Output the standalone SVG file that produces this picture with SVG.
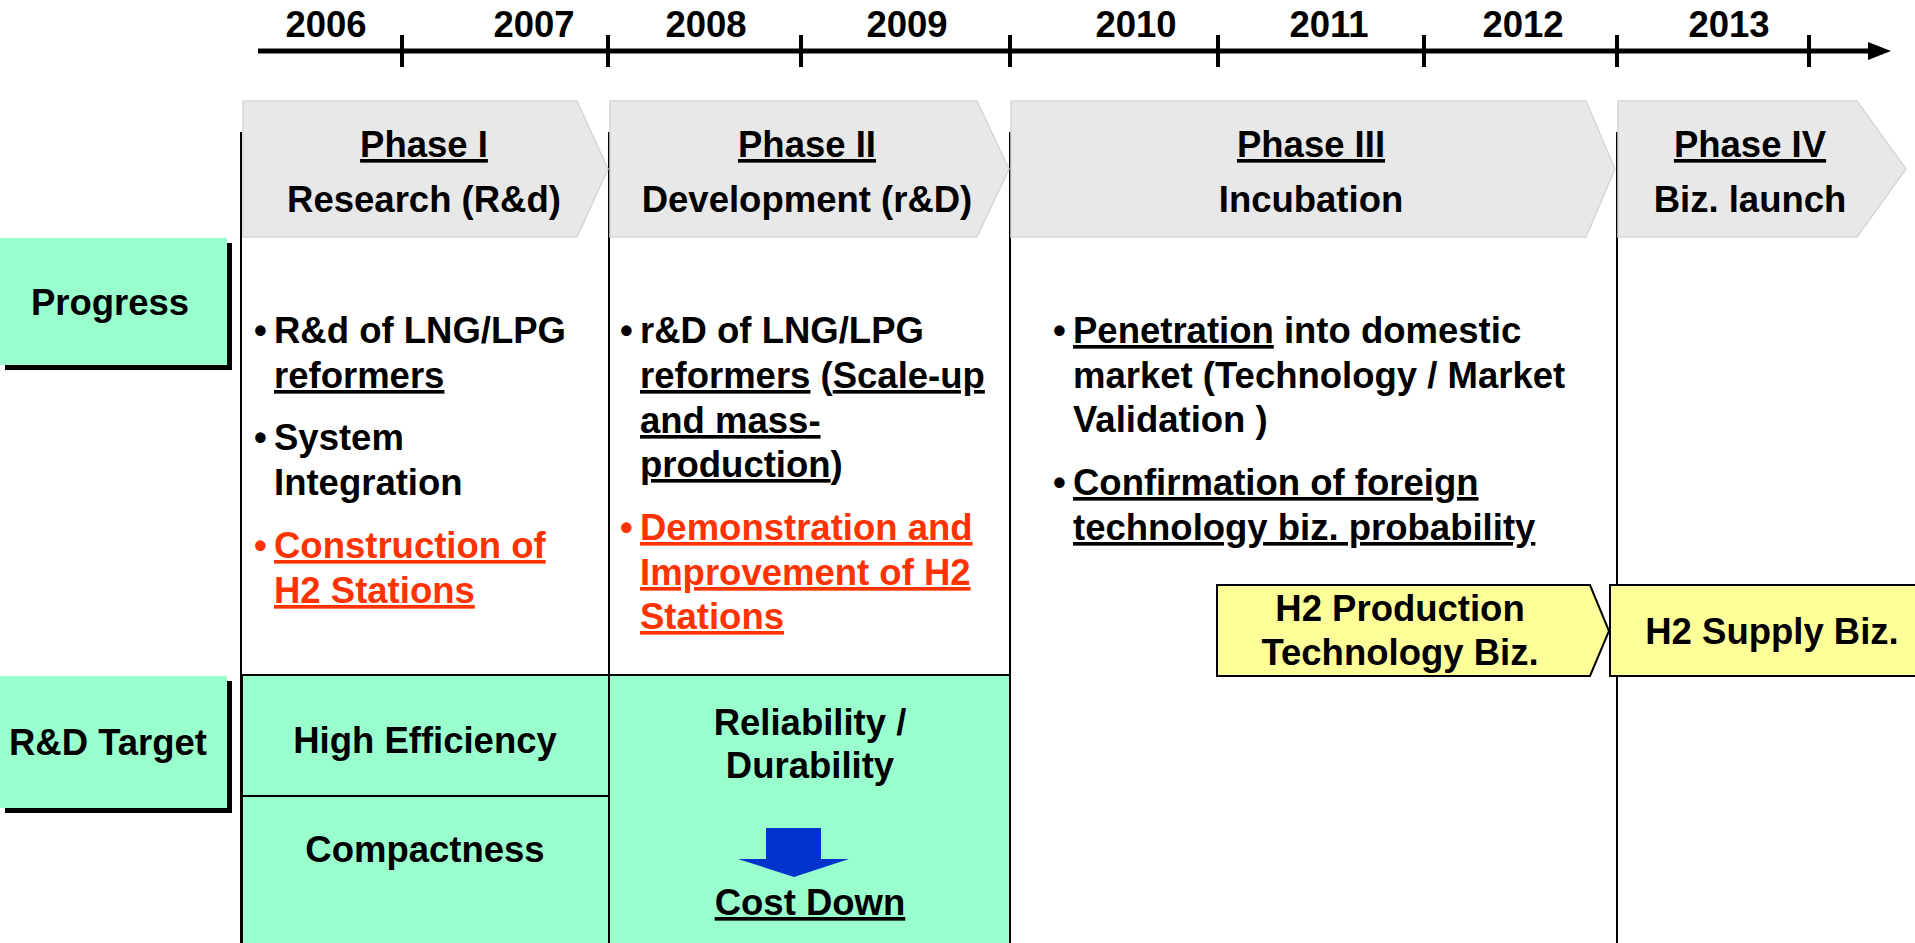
<svg xmlns="http://www.w3.org/2000/svg" width="1915" height="943" viewBox="0 0 1915 943">
  <defs>
    <style>
      text { font-family: "Liberation Sans", Arial, sans-serif; font-weight: bold; font-size: 36.5px; fill: #000; }
      .c { text-anchor: middle; }
      .u { text-decoration: underline; }
      .red { fill: #FF3300; }
      .phase { fill: #E8E8E8; stroke: #D6D6D6; stroke-width: 1.5; }
      .green { fill: #99FFCC; stroke: #000; stroke-width: 2; }
      .label { fill: #99FFCC; }
      .shadow { fill: #000; }
      .biz { fill: #FFFF99; stroke: #000; stroke-width: 2; }
      .grid { stroke: #000; stroke-width: 2; fill: none; }
      .axis { stroke: #000; stroke-width: 5; }
      .tick { stroke: #000; stroke-width: 4; }
    </style>
  </defs>

  <rect width="1915" height="943" fill="#fff"/>

  <!-- timeline axis -->
  <g id="timeline">
    <line class="axis" x1="258" y1="51" x2="1872" y2="51"/>
    <polygon points="1868,42 1891,51 1868,60" fill="#000"/>
    <line class="tick" x1="402" y1="35" x2="402" y2="67"/>
    <line class="tick" x1="608" y1="35" x2="608" y2="67"/>
    <line class="tick" x1="801" y1="35" x2="801" y2="67"/>
    <line class="tick" x1="1010" y1="35" x2="1010" y2="67"/>
    <line class="tick" x1="1218" y1="35" x2="1218" y2="67"/>
    <line class="tick" x1="1424" y1="35" x2="1424" y2="67"/>
    <line class="tick" x1="1617" y1="35" x2="1617" y2="67"/>
    <line class="tick" x1="1809" y1="35" x2="1809" y2="67"/>
    <text class="c" x="326" y="37">2006</text>
    <text class="c" x="534" y="37">2007</text>
    <text class="c" x="706" y="37">2008</text>
    <text class="c" x="907" y="37">2009</text>
    <text class="c" x="1136" y="37">2010</text>
    <text class="c" x="1329" y="37">2011</text>
    <text class="c" x="1523" y="37">2012</text>
    <text class="c" x="1729" y="37">2013</text>
  </g>

  <!-- column dividers -->
  <g id="columns">
    <line class="grid" x1="241" y1="132" x2="241" y2="943"/>
    <line class="grid" x1="609" y1="132" x2="609" y2="943"/>
    <line class="grid" x1="1010" y1="132" x2="1010" y2="943"/>
    <line class="grid" x1="1617" y1="132" x2="1617" y2="943"/>
  </g>

  <!-- phase headers -->
  <g id="phase1">
    <polygon class="phase" points="243,101 577,101 608,169 577,237 243,237"/>
    <text class="c u" x="424" y="157">Phase I</text>
    <text class="c" x="424" y="212">Research (R&amp;d)</text>
  </g>
  <g id="phase2">
    <polygon class="phase" points="610,101 977,101 1009,169 977,237 610,237"/>
    <text class="c u" x="807" y="157">Phase II</text>
    <text class="c" x="807" y="212">Development (r&amp;D)</text>
  </g>
  <g id="phase3">
    <polygon class="phase" points="1011,101 1586,101 1615,169 1586,237 1011,237"/>
    <text class="c u" x="1311" y="157">Phase III</text>
    <text class="c" x="1311" y="212">Incubation</text>
  </g>
  <g id="phase4">
    <polygon class="phase" points="1618,101 1857,101 1906,169 1857,237 1618,237"/>
    <text class="c u" x="1750" y="157">Phase IV</text>
    <text class="c" x="1750" y="212">Biz. launch</text>
  </g>

  <!-- row labels -->
  <g id="progress-label">
    <rect class="shadow" x="5" y="243" width="227" height="127"/>
    <rect class="label" x="0" y="238" width="227" height="127"/>
    <text class="c" x="110" y="315">Progress</text>
  </g>
  <g id="target-label">
    <rect class="shadow" x="5" y="681" width="227" height="132"/>
    <rect class="label" x="0" y="676" width="227" height="132"/>
    <text class="c" x="108" y="755">R&amp;D Target</text>
  </g>

  <!-- progress: phase I -->
  <g id="progress1">
    <text x="254" y="343">•</text>
    <text x="274" y="343">R&amp;d of LNG/LPG</text>
    <text class="u" x="274" y="388">reformers</text>
    <text x="254" y="450">•</text>
    <text x="274" y="450">System</text>
    <text x="274" y="495">Integration</text>
    <text class="red" x="254" y="558">•</text>
    <text class="red u" x="274" y="558">Construction of</text>
    <text class="red u" x="274" y="603">H2 Stations</text>
  </g>

  <!-- progress: phase II -->
  <g id="progress2">
    <text x="620" y="343">•</text>
    <text x="640" y="343">r&amp;D of LNG/LPG</text>
    <text x="640" y="388"><tspan class="u">reformers</tspan> (<tspan class="u">Scale-up</tspan></text>
    <text class="u" x="640" y="433">and mass-</text>
    <text x="640" y="477"><tspan class="u">production</tspan>)</text>
    <text class="red" x="620" y="540">•</text>
    <text class="red u" x="640" y="540">Demonstration and</text>
    <text class="red u" x="640" y="585">Improvement of H2</text>
    <text class="red u" x="640" y="629">Stations</text>
  </g>

  <!-- progress: phase III -->
  <g id="progress3">
    <text x="1053" y="343">•</text>
    <text x="1073" y="343"><tspan class="u">Penetration</tspan> into domestic</text>
    <text x="1073" y="388">market (Technology / Market</text>
    <text x="1073" y="432">Validation )</text>
    <text x="1053" y="495">•</text>
    <text class="u" x="1073" y="495">Confirmation of foreign</text>
    <text class="u" x="1073" y="540">technology biz. probability</text>
  </g>

  <!-- business stages -->
  <g id="biz-production">
    <polygon class="biz" points="1217,585 1590,585 1609,631 1590,676 1217,676"/>
    <text class="c" x="1400" y="621">H2 Production</text>
    <text class="c" x="1400" y="665">Technology Biz.</text>
  </g>
  <g id="biz-supply">
    <rect class="biz" x="1610" y="585" width="320" height="91"/>
    <text class="c" x="1772" y="644">H2 Supply Biz.</text>
  </g>

  <!-- R&D targets -->
  <g id="target1">
    <rect class="green" x="242" y="675" width="367" height="121"/>
    <text class="c" x="425" y="753">High Efficiency</text>
  </g>
  <g id="target2">
    <rect class="green" x="242" y="796" width="367" height="150"/>
    <text class="c" x="425" y="862">Compactness</text>
  </g>
  <g id="target3">
    <rect class="green" x="609" y="675" width="401" height="271"/>
    <text class="c" x="810" y="735">Reliability /</text>
    <text class="c" x="810" y="778">Durability</text>
    <polygon points="766,828 821,828 821,859 849,859 794,877 738,859 766,859" fill="#0033CC"/>
    <text class="c u" x="810" y="915">Cost Down</text>
  </g>
</svg>
